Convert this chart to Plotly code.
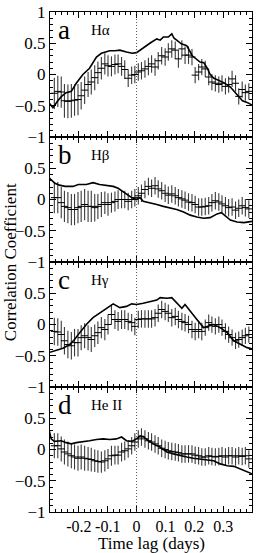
import plotly.graph_objects as go
from plotly.subplots import make_subplots

# ---- data ----
panel_letters = ["a", "b", "c", "d"]
panel_lines = ["Hα", "Hβ", "Hγ", "He II"]

lag_pts = [-0.285, -0.273, -0.261, -0.250, -0.238, -0.226, -0.215, -0.203, -0.192, -0.180,
           -0.168, -0.157, -0.145, -0.134, -0.122, -0.110, -0.099, -0.087, -0.075, -0.064,
           -0.052, -0.041, -0.029, -0.017, -0.006, 0.006, 0.017, 0.029, 0.041, 0.052,
           0.064, 0.075, 0.087, 0.099, 0.110, 0.122, 0.134, 0.145, 0.157, 0.168,
           0.180, 0.192, 0.203, 0.215, 0.226, 0.238, 0.250, 0.261, 0.273, 0.285,
           0.296, 0.308, 0.319, 0.331, 0.343, 0.354, 0.366, 0.377, 0.389]

pts_a = [-0.30, -0.27, -0.28, -0.42, -0.43, -0.42, -0.41, -0.40, -0.34, -0.25,
         -0.16, -0.12, -0.05, 0.03, 0.10, 0.17, 0.14, 0.13, 0.16, 0.17,
         0.13, 0.08, -0.06, -0.01, 0.00, 0.04, 0.06, 0.09, 0.13, 0.17,
         0.12, 0.22, 0.30, 0.28, 0.36, 0.41, 0.39, 0.25, 0.41, 0.31,
         0.31, 0.28, -0.01, 0.04, 0.12, 0.09, -0.04, -0.12, -0.14, -0.16,
         -0.14, -0.19, -0.16, -0.07, -0.14, -0.35, -0.24, -0.29, -0.27]
err_a = [0.25, 0.25, 0.25, 0.27, 0.27, 0.27, 0.25, 0.25, 0.22, 0.22,
         0.20, 0.20, 0.20, 0.18, 0.18, 0.17, 0.17, 0.16, 0.16, 0.15,
         0.15, 0.15, 0.14, 0.14, 0.14, 0.14, 0.14, 0.14, 0.14, 0.14,
         0.14, 0.14, 0.14, 0.14, 0.14, 0.14, 0.14, 0.14, 0.14, 0.14,
         0.14, 0.13, 0.13, 0.13, 0.13, 0.13, 0.13, 0.13, 0.13, 0.13,
         0.13, 0.13, 0.13, 0.13, 0.13, 0.13, 0.13, 0.13, 0.13]

pts_b = [0.03, 0.03, -0.05, -0.11, -0.13, -0.16, -0.16, -0.13, -0.11, -0.08,
         -0.11, -0.11, -0.13, -0.11, -0.08, -0.05, -0.08, -0.05, -0.03, 0.00,
         0.00, 0.00, -0.03, 0.00, 0.03, 0.06, 0.10, 0.16, 0.21, 0.18,
         0.22, 0.17, 0.14, 0.10, 0.07, 0.09, 0.06, 0.03, 0.01, -0.01,
         -0.04, -0.05, -0.08, -0.12, -0.12, -0.11, -0.10, -0.05, -0.02, -0.04,
         -0.07, -0.10, -0.13, -0.12, -0.17, -0.14, -0.10, -0.13, -0.15]
err_b = [0.25, 0.25, 0.25, 0.25, 0.25, 0.25, 0.25, 0.25, 0.25, 0.25,
         0.25, 0.25, 0.22, 0.20, 0.20, 0.18, 0.18, 0.16, 0.16, 0.15,
         0.14, 0.14, 0.14, 0.14, 0.14, 0.14, 0.14, 0.14, 0.14, 0.14,
         0.14, 0.14, 0.14, 0.14, 0.14, 0.14, 0.14, 0.14, 0.14, 0.14,
         0.14, 0.14, 0.14, 0.14, 0.14, 0.14, 0.14, 0.14, 0.14, 0.14,
         0.14, 0.14, 0.14, 0.14, 0.14, 0.14, 0.14, 0.14, 0.14]

pts_c = [-0.11, -0.12, -0.16, -0.26, -0.32, -0.34, -0.29, -0.29, -0.21, -0.18,
         -0.21, -0.24, -0.18, -0.13, -0.05, -0.08, 0.00, 0.16, 0.08, 0.05,
         0.08, 0.08, 0.05, 0.03, -0.03, 0.08, 0.09, 0.09, 0.09, 0.09,
         0.11, 0.18, 0.24, 0.21, 0.18, 0.11, 0.13, 0.08, 0.05, 0.03,
         0.00, -0.08, -0.11, -0.08, -0.11, -0.05, 0.03, 0.00, -0.03, 0.00,
         -0.05, -0.11, -0.16, -0.21, -0.26, -0.24, -0.21, -0.18, -0.16]
err_c = [0.22, 0.22, 0.22, 0.22, 0.22, 0.22, 0.22, 0.22, 0.20, 0.20,
         0.20, 0.20, 0.18, 0.18, 0.17, 0.17, 0.16, 0.16, 0.15, 0.15,
         0.15, 0.15, 0.14, 0.14, 0.14, 0.14, 0.14, 0.14, 0.14, 0.14,
         0.14, 0.14, 0.14, 0.14, 0.14, 0.14, 0.14, 0.14, 0.14, 0.14,
         0.14, 0.14, 0.14, 0.14, 0.14, 0.13, 0.13, 0.13, 0.13, 0.13,
         0.13, 0.13, 0.13, 0.13, 0.13, 0.13, 0.13, 0.13, 0.13]

pts_d = [0.06, 0.06, 0.01, -0.04, -0.07, -0.10, -0.12, -0.14, -0.12, -0.14,
         -0.15, -0.16, -0.18, -0.19, -0.20, -0.18, -0.15, -0.10, -0.09, -0.09,
         -0.04, -0.02, 0.01, 0.06, 0.12, 0.17, 0.20, 0.17, 0.14, 0.12,
         0.09, 0.06, 0.02, 0.00, -0.02, -0.03, -0.04, -0.05, -0.07, -0.07,
         -0.07, -0.07, -0.09, -0.10, -0.12, -0.12, -0.10, -0.11, -0.12, -0.11,
         -0.10, -0.12, -0.10, -0.10, -0.12, -0.10, -0.11, -0.10, -0.15]
err_d = [0.20, 0.20, 0.20, 0.20, 0.20, 0.20, 0.20, 0.20, 0.20, 0.20,
         0.19, 0.19, 0.18, 0.18, 0.17, 0.17, 0.16, 0.16, 0.15, 0.15,
         0.15, 0.15, 0.14, 0.14, 0.14, 0.14, 0.14, 0.14, 0.14, 0.14,
         0.14, 0.14, 0.14, 0.14, 0.14, 0.14, 0.14, 0.14, 0.14, 0.14,
         0.14, 0.14, 0.14, 0.14, 0.14, 0.14, 0.14, 0.14, 0.14, 0.14,
         0.14, 0.14, 0.14, 0.14, 0.14, 0.14, 0.14, 0.14, 0.14]

lag_line_a = [-0.304, -0.290, -0.273, -0.260, -0.244, -0.226, -0.209, -0.186, -0.163, -0.139,
              -0.122, -0.105, -0.093, -0.075, -0.058, -0.035, -0.015, 0.000, 0.023, 0.046,
              0.070, 0.082, 0.093, 0.110, 0.122, 0.130, 0.139, 0.155, 0.174, 0.193,
              0.220, 0.233, 0.245, 0.255, 0.268, 0.279, 0.302, 0.325, 0.344, 0.367,
              0.385, 0.400]
line_a = [-0.45, -0.53, -0.42, -0.35, -0.29, -0.27, -0.14, 0.00, 0.10, 0.28,
          0.34, 0.36, 0.38, 0.38, 0.39, 0.36, 0.34, 0.35, 0.43, 0.50,
          0.57, 0.55, 0.60, 0.60, 0.65, 0.58, 0.55, 0.49, 0.46, 0.30,
          0.20, 0.19, 0.10, 0.00, -0.06, -0.08, -0.13, -0.20, -0.30, -0.42,
          -0.45, -0.49]

lag_line_b = [-0.304, -0.290, -0.283, -0.267, -0.248, -0.220, -0.202, -0.174, -0.151, -0.128,
              -0.109, -0.081, -0.064, -0.045, -0.029, -0.017, 0.000, 0.012, 0.023, 0.046,
              0.070, 0.093, 0.116, 0.139, 0.163, 0.186, 0.209, 0.232, 0.255, 0.279,
              0.294, 0.310, 0.325, 0.348, 0.372, 0.400]
line_b = [0.35, 0.30, 0.26, 0.23, 0.21, 0.21, 0.24, 0.24, 0.27, 0.24,
          0.23, 0.21, 0.18, 0.12, 0.07, 0.03, 0.00, 0.03, -0.03, -0.05,
          -0.08, -0.11, -0.13, -0.16, -0.20, -0.25, -0.28, -0.30, -0.29, -0.23,
          -0.21, -0.27, -0.33, -0.36, -0.37, -0.35]

lag_line_c = [-0.304, -0.279, -0.255, -0.232, -0.215, -0.197, -0.174, -0.151, -0.128, -0.105,
              -0.081, -0.058, -0.035, -0.017, 0.000, 0.023, 0.046, 0.070, 0.082, 0.105,
              0.122, 0.139, 0.157, 0.168, 0.186, 0.209, 0.232, 0.250, 0.267, 0.290,
              0.314, 0.337, 0.360, 0.383, 0.400]
line_c = [-0.45, -0.41, -0.38, -0.32, -0.24, -0.13, 0.00, 0.11, 0.18, 0.26,
          0.33, 0.27, 0.29, 0.33, 0.32, 0.34, 0.37, 0.39, 0.43, 0.42,
          0.43, 0.34, 0.26, 0.32, 0.21, 0.08, -0.05, -0.03, 0.00, -0.05,
          -0.13, -0.26, -0.32, -0.37, -0.39]

lag_line_d = [-0.304, -0.296, -0.285, -0.261, -0.244, -0.226, -0.209, -0.186, -0.163, -0.139,
              -0.116, -0.093, -0.070, -0.052, -0.035, -0.017, 0.000, 0.012, 0.023, 0.041,
              0.058, 0.081, 0.105, 0.128, 0.151, 0.174, 0.197, 0.220, 0.244, 0.267,
              0.290, 0.314, 0.337, 0.360, 0.383, 0.400]
line_d = [0.33, 0.17, 0.13, 0.14, 0.11, 0.09, 0.11, 0.12, 0.14, 0.16,
          0.17, 0.16, 0.17, 0.20, 0.14, 0.13, 0.17, 0.22, 0.21, 0.14,
          0.09, 0.04, -0.04, -0.07, -0.10, -0.12, -0.14, -0.15, -0.16, -0.18,
          -0.23, -0.26, -0.27, -0.31, -0.36, -0.39]

x_ticks = [-0.2, -0.1, 0, 0.1, 0.2, 0.3]
x_ticktext = ["-0.2", "-0.1", "0", "0.1", "0.2", "0.3"]
y_ticks_top = [-1, -0.5, 0, 0.5, 1]
y_ticks = [-1, -0.5, 0, 0.5]

panels = [
    (pts_a, err_a, lag_line_a, line_a),
    (pts_b, err_b, lag_line_b, line_b),
    (pts_c, err_c, lag_line_c, line_c),
    (pts_d, err_d, lag_line_d, line_d),
]

FONT = "Liberation Serif, Times New Roman, serif"

fig = make_subplots(rows=4, cols=1, shared_xaxes=True, vertical_spacing=0)

for i, (pts, err, llag, lval) in enumerate(panels, start=1):
    fig.add_trace(go.Scatter(
        x=lag_pts, y=pts, mode="markers",
        marker=dict(symbol="line-ew", size=5, color="black",
                    line=dict(width=1, color="black")),
        error_y=dict(type="data", array=err, visible=True, width=0,
                     thickness=1.1, color="#3a3a3a"),
        showlegend=False, hoverinfo="skip"), row=i, col=1)
    fig.add_trace(go.Scatter(
        x=llag, y=lval, mode="lines",
        line=dict(color="black", width=1.6),
        showlegend=False, hoverinfo="skip"), row=i, col=1)
    sfx = '' if i == 1 else str(i)
    fig.add_shape(type="line", x0=0, x1=0, y0=-1, y1=1,
                  xref=f"x{sfx}", yref=f"y{sfx}",
                  line=dict(color="#444444", width=0.9, dash="1px,2px"))
    fig.add_annotation(text=panel_letters[i - 1], x=0.03, y=0.86,
                       xref=f"x{sfx} domain", yref=f"y{sfx} domain",
                       xanchor="left", yanchor="middle", showarrow=False,
                       font=dict(family=FONT, size=27, color="black"))
    fig.add_annotation(text=panel_lines[i - 1], x=0.195, y=0.86,
                       xref=f"x{sfx} domain", yref=f"y{sfx} domain",
                       xanchor="left", yanchor="middle", showarrow=False,
                       font=dict(family=FONT, size=15, color="black"))

axis_common = dict(showline=True, linecolor="black", linewidth=1, mirror="allticks",
                   ticks="inside", tickcolor="black", showgrid=False, zeroline=False)

for i in range(1, 5):
    fig.update_xaxes(range=[-0.3, 0.4], tickvals=x_ticks, ticktext=x_ticktext,
                     ticklen=6, tickwidth=1,
                     minor=dict(ticks="inside", dtick=0.02, tick0=0, ticklen=3,
                                tickcolor="black", tickwidth=1),
                     showticklabels=(i == 4), ticklabeloverflow="allow",
                     tickfont=dict(family=FONT, size=16, color="black"),
                     row=i, col=1, **axis_common)
    fig.update_yaxes(range=[-1, 1], tickvals=(y_ticks_top if i == 1 else y_ticks),
                     ticklen=6, tickwidth=1, ticklabeloverflow="allow",
                     minor=dict(ticks="inside", dtick=0.1, tick0=0, ticklen=3,
                                tickcolor="black", tickwidth=1),
                     tickfont=dict(family=FONT, size=17, color="black"),
                     row=i, col=1, **axis_common)

fig.add_annotation(text="Correlation Coefficient", x=-0.197, y=0.5, xref="paper", yref="paper",
                   textangle=-90, showarrow=False, xanchor="center", yanchor="middle",
                   font=dict(family=FONT, size=17, color="black"))
fig.add_annotation(text="Time lag (days)", x=0.5, y=-0.062, xref="paper", yref="paper",
                   showarrow=False, xanchor="center", yanchor="middle",
                   font=dict(family=FONT, size=17, color="black"))

fig.update_layout(width=256, height=553, margin=dict(l=50, r=3, t=9, b=41),
                  paper_bgcolor="white", plot_bgcolor="white",
                  font=dict(family=FONT, color="black"), hovermode=False)

# remove the browser's default 8px body margin so the figure sits at the window origin
fig.write_html("out.html", config={"displayModeBar": False},
               post_script="document.body.style.margin='0';")
